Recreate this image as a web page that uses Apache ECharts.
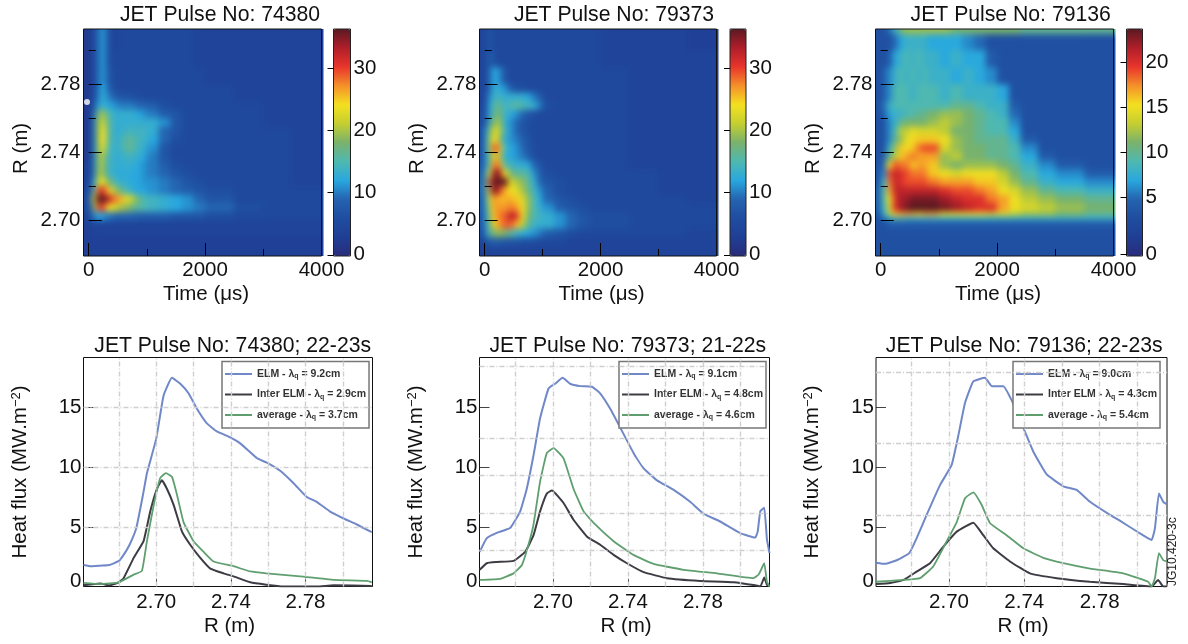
<!DOCTYPE html>
<html><head><meta charset="utf-8">
<style>html,body{margin:0;padding:0;background:#fff}#c{width:1188px;height:644px}</style>
<script src="https://cdn.jsdelivr.net/npm/echarts@6/dist/echarts.min.js"></script>
</head><body><div id="c"></div>
<script>
const heatTimeEdges=[-90,0,60,120,180,240,300,400,500,600,700,800,900,1000,1200,1400,1600,1800,2000,2500,3000,3500,4000];
const heatREdges=[2.8125,2.80,2.79,2.78,2.775,2.77,2.765,2.76,2.755,2.75,2.745,2.74,2.735,2.73,2.725,2.72,2.715,2.71,2.705,2.70,2.695,2.69,2.685,2.679];
const heat3TimeEdges=[-90,0,100,200,300,400,500,600,700,800,1000,1200,1400,1600,1800,2000,2200,2400,2700,3000,3500,4000];
const heat3REdges=[2.8125,2.8095,2.80,2.79,2.78,2.77,2.765,2.76,2.755,2.75,2.745,2.74,2.735,2.73,2.725,2.72,2.715,2.71,2.705,2.7025,2.70,2.695,2.69,2.679];
const heat74380=[
[2,3,5,8,11,11,6,4,5,5,5,5,5,5,5,5,5,4,4,4,4,4],
[2,3,5,8,11,11,6,5,5,5,5,5,5,5,5,5,5,4,4,4,4,4],
[2,3,5,8,11,11,7,5,5,5,5,5,5,5,5,5,5,5,4,4,4,4],
[2,3,5,8,12,12,8,6,5,5,5,5,5,5,5,5,5,5,5,4,4,4],
[2,3,6,9,12,13,10,8,7,7,6,6,5,5,5,5,5,5,5,4,4,4],
[2,3,7,11,13,13,12,11,10,10,10,9,9,8,6,5,5,5,5,5,4,4],
[2,3,9,16,20,19,15,13,13,13,13,12,11,10,8,7,5,5,5,5,4,4],
[2,3,10,18,22,21,16,13,13,13,13,13,13,13,11,7,5,5,5,5,4,4],
[2,3,10,18,23,24,16,13,13,14,14,14,14,13,9,7,5,5,5,5,5,4],
[2,3,10,18,24,24,16,13,14,16,16,14,14,12,9,6,5,5,5,5,5,4],
[2,3,10,17,23,22,15,13,14,16,16,14,13,11,7,5,5,5,5,5,5,4],
[2,4,10,17,21,19,14,13,13,14,14,13,12,10,7,5,5,5,5,5,5,4],
[3,4,10,17,21,18,14,13,13,13,13,12,11,10,8,6,5,5,5,5,5,4],
[3,4,10,18,21,18,14,13,12,13,12,12,11,10,9,7,6,5,5,5,5,4],
[3,5,12,20,24,23,18,15,13,13,12,12,11,11,10,9,7,6,5,5,5,4],
[4,7,16,28,32,30,25,20,17,15,13,12,12,11,10,9,8,7,6,5,5,5],
[5,9,24,36,36,36,32,28,26,23,21,17,15,14,13,12,11,9,7,5,5,5],
[5,8,18,28,32,29,24,22,20,19,17,16,15,14,13,12,11,10,9,6,5,5],
[4,6,10,12,12,11,10,9,9,9,9,8,8,8,8,7,7,7,6,5,5,5],
[3,4,4,4,4,4,4,4,4,4,4,4,4,4,4,4,4,4,4,4,4,4],
[3,3,4,4,4,4,4,4,4,4,4,4,4,4,4,4,4,4,4,4,4,4],
[3,3,3,3,3,3,3,3,3,3,3,3,3,3,3,3,3,3,3,3,3,3],
[3,3,3,3,3,3,3,3,3,3,3,3,3,3,3,3,3,3,3,3,3,3]];
const heat79373=[
[4,6,7,5,5,5,5,5,5,5,5,5,5,5,5,5,5,5,4,4,4,3],
[4,6,8,7,5,5,5,5,5,5,5,5,5,5,5,5,5,5,4,4,4,4],
[4,6,9,12,12,10,7,5,5,5,5,5,5,5,5,5,5,5,5,4,4,4],
[4,6,9,13,13,12,11,8,6,6,5,5,5,5,5,5,5,5,5,4,4,4],
[4,7,11,13,14,14,13,13,13,13,12,10,8,5,5,5,5,5,5,4,4,4],
[4,8,12,15,17,16,14,15,16,15,14,13,10,6,5,5,5,5,5,4,4,4],
[5,8,12,16,18,17,14,12,11,9,7,6,5,5,5,5,5,5,5,4,4,4],
[5,9,14,18,20,19,13,11,9,7,6,5,5,5,5,5,5,5,5,4,4,4],
[6,12,18,22,23,20,14,11,9,7,6,5,5,5,5,5,5,5,5,4,4,4],
[6,13,19,24,25,18,13,11,10,8,7,5,5,5,5,5,5,5,5,4,4,4],
[6,13,20,28,30,24,14,12,11,9,7,6,5,5,5,5,5,5,5,4,4,4],
[6,12,17,23,26,20,13,12,11,10,8,6,5,5,5,5,5,5,5,4,4,4],
[7,12,18,26,30,25,16,14,13,13,12,9,7,5,5,5,5,5,5,4,4,4],
[8,15,24,34,35,33,24,18,16,16,15,11,8,6,5,5,5,5,5,5,4,4],
[9,17,30,36,36,36,36,23,20,19,16,13,9,7,6,5,5,5,5,5,4,4],
[9,16,27,36,34,30,26,24,23,20,17,14,11,8,6,5,5,5,5,5,4,4],
[8,14,23,27,27,25,26,26,25,23,19,15,12,9,7,6,5,5,5,5,5,4],
[8,13,21,26,27,27,27,28,27,24,19,15,13,11,8,7,6,5,5,5,5,5],
[7,12,19,25,27,28,29,33,31,24,18,15,14,13,11,9,7,6,6,5,5,5],
[7,12,18,23,26,27,29,29,26,21,16,14,13,13,11,9,7,6,6,5,5,5],
[6,11,16,18,19,19,18,16,14,13,12,11,10,8,7,6,5,5,5,5,5,4],
[4,7,8,8,8,8,7,7,7,6,6,6,5,5,5,4,4,4,4,4,4,4],
[3,4,4,4,4,4,4,4,4,4,4,4,4,4,4,4,4,4,4,4,4,4]];
const heat79136=[
[3,3,5,8,11,12,12,12,12,12,12,11,11,11,11,11,11,10,10,10,10],
[3,3,3,5,7,8,8,8,8,7,7,7,6,5,3,3,3,3,3,3,3],
[3,3,4,7,8,9,8,9,8,8,7,8,7,7,4,3,3,3,3,3,3],
[3,4,6,8,9,8,9,8,9,8,8,7,8,7,6,3,3,3,3,3,3],
[3,4,6,9,9,9,8,9,9,9,8,9,8,8,8,7,3,3,3,3,3],
[3,5,8,9,9,9,9,9,9,9,9,10,10,9,8,8,4,3,3,3,3],
[3,4,7,8,8,9,9,10,10,11,12,12,11,10,9,8,5,3,3,3,3],
[3,3,6,8,10,11,11,11,11,12,13,12,11,10,9,9,6,3,3,3,3],
[3,3,6,9,13,13,15,14,14,14,13,11,11,10,9,9,7,3,3,3,3],
[3,3,6,10,12,15,15,16,16,16,15,12,11,10,10,10,8,4,3,3,3],
[3,3,8,12,16,15,16,18,19,19,14,12,11,11,10,10,9,6,3,3,3],
[3,4,10,13,16,17,18,17,17,17,12,13,11,11,10,10,9,7,4,3,3],
[3,5,15,19,18,18,16,17,17,16,12,11,12,12,12,11,10,8,6,4,3],
[3,6,19,21,20,19,18,18,18,16,15,14,15,15,15,13,11,9,7,6,4],
[3,8,18,21,20,19,19,19,19,18,17,17,17,16,16,14,12,10,8,7,6],
[4,9,17,21,21,21,21,21,21,21,20,19,19,18,17,15,14,12,10,9,8],
[4,9,15,20,22,22,23,23,23,23,22,21,20,20,18,17,15,13,12,11,10],
[4,8,14,20,22,23,24,24,24,24,23,22,21,20,20,17,15,14,13,12,11],
[3,7,13,16,17,17,17,16,17,17,15,15,15,15,14,14,13,12,12,11,10],
[3,5,7,9,9,8,8,8,8,8,8,8,8,8,8,8,8,8,8,8,8],
[3,3,4,4,4,4,4,4,4,4,4,4,4,4,4,4,4,4,4,4,4],
[3,3,3,3,3,3,3,3,3,3,3,3,3,3,3,3,3,3,3,3,3],
[3,3,3,3,3,3,3,3,3,3,3,3,3,3,3,3,3,3,3,3,3]];
const whiteSpot74380=[[-30,2.7696]];

const elmR1=[2.661,2.665,2.67,2.675,2.68,2.6825,2.6857,2.6893,2.6929,2.695,2.70,2.7039,2.7084,2.7129,2.7173,2.7218,2.727,2.7325,2.7396,2.745,2.754,2.759,2.7664,2.7736,2.7807,2.786,2.793,2.8004,2.8075,2.8155];
const elmQ1=[1.8,1.7,1.75,1.8,2.15,2.65,3.5,4.9,7.7,9.5,12.4,16,17.5,17,16.2,14.9,13.7,13,12.5,12,10.75,10.4,9.7,8.66,7.5,7.1,6.3,5.7,5.2,4.55];
const interR1=[2.661,2.67,2.675,2.68,2.6825,2.6879,2.6932,2.6968,2.7004,2.703,2.7057,2.7093,2.7138,2.7182,2.7236,2.729,2.7361,2.7414,2.7504,2.759,2.768,2.786,2.795,2.8155];
const interQ1=[0.1,0.25,0.1,0.35,0.7,2.4,3.8,6.3,8.2,8.9,8.2,6.85,4.6,3.5,2.4,1.5,1.1,0.85,0.35,0.15,0,0,0.1,0.05];
const avgR1=[2.661,2.67,2.68,2.6879,2.6923,2.695,2.6986,2.7021,2.7052,2.7084,2.7111,2.7146,2.72,2.7254,2.7307,2.7414,2.7504,2.759,2.7771,2.795,2.8129,2.8155];
const avgQ1=[0.3,0.2,0.35,1,1.3,3.8,6.8,9.1,9.5,9.2,7.7,5.4,3.8,2.9,2.1,1.7,1.26,1.1,0.85,0.56,0.47,0.35];
const elmR2=[2.661,2.6648,2.6701,2.6772,2.6826,2.6861,2.6897,2.6932,2.6977,2.7012,2.7052,2.7092,2.7146,2.7208,2.7252,2.7306,2.736,2.743,2.7484,2.7555,2.7644,2.7732,2.7804,2.7892,2.7999,2.8079,2.8092,2.8106,2.8127,2.8141,2.8155];
const elmQ2=[2.9,4.05,4.5,4.9,6.3,8.2,11,14.1,16.6,17,17.5,17,16.8,16.75,16.2,14.9,13.3,11.2,9.9,8.9,8.1,7.1,6.1,5.45,4.47,4.1,4.6,6.3,6.6,4,2.8];
const interR2=[2.661,2.6648,2.6701,2.679,2.6852,2.6897,2.6932,2.6968,2.6995,2.7057,2.711,2.7181,2.7252,2.7324,2.7395,2.7484,2.7608,2.7786,2.7964,2.8079,2.8106,2.8127,2.8141,2.8155];
const interQ2=[1.4,1.95,2.05,2.15,2.9,4.3,6.3,7.8,8.05,7,5.6,4.2,3.5,2.65,1.95,1.2,0.7,0.47,0.36,0.1,0,0.75,0.15,0];
const avgR2=[2.661,2.6719,2.679,2.6835,2.687,2.6897,2.6932,2.6968,2.7004,2.7057,2.711,2.7164,2.7226,2.7324,2.743,2.7537,2.7697,2.7875,2.807,2.8097,2.8127,2.8141,2.8155];
const avgQ2=[0.55,0.64,1.1,1.8,3.5,5.2,8.8,11.2,11.6,10.75,8.2,6.3,5.2,3.8,2.65,1.9,1.4,1.1,0.7,1,1.95,0.4,0];
const elmR3=[2.6612,2.666,2.6722,2.6789,2.6828,2.6881,2.6952,2.7014,2.705,2.7085,2.7129,2.7191,2.7227,2.7288,2.7333,2.7395,2.7448,2.7519,2.7607,2.7678,2.7749,2.7855,2.7899,2.8005,2.8076,2.8094,2.8115,2.8138,2.8156];
const elmQ3=[2,1.9,2.2,2.8,4.05,6,8.5,10.2,12.7,15.4,17.2,17.5,16.8,16.8,15.6,13.3,11.3,9.4,8.4,8.1,7.1,6,5.6,4.55,3.9,4.9,7.8,7.1,6.9];
const interR3=[2.6612,2.6687,2.6758,2.6828,2.6899,2.697,2.7041,2.7129,2.7182,2.7235,2.7324,2.743,2.7572,2.7749,2.7926,2.8076,2.8111,2.8138,2.8156];
const interQ3=[0.2,0.3,0.55,1.25,1.95,3.35,4.6,5.35,4.3,3.2,2.1,1.1,0.7,0.4,0.2,0,0.55,0,0];
const avgR3=[2.6612,2.6758,2.6846,2.6917,2.6988,2.7041,2.7085,2.7129,2.7173,2.7218,2.7306,2.7395,2.7501,2.7607,2.7749,2.7926,2.8058,2.8076,2.8094,2.8115,2.8138,2.8156];
const avgQ3=[0.4,0.55,0.7,1.7,3.8,5.4,7.4,7.9,6.85,5.3,4.3,3.2,2.4,1.95,1.5,1.1,0.4,0,0.7,2.8,2.2,2.1];

const topTitles=['JET Pulse No: 74380','JET Pulse No: 79373','JET Pulse No: 79136'];
const bottomTitles=['JET Pulse No: 74380; 22-23s','JET Pulse No: 79373; 21-22s','JET Pulse No: 79136; 22-23s'];
const elmNames=['ELM - λq = 9.2cm','ELM - λq = 9.1cm','ELM - λq = 9.0cm'];
const interNames=['Inter ELM - λq = 2.9cm','Inter ELM - λq = 4.8cm','Inter ELM - λq = 4.3cm'];
const avgNames=['average - λq = 3.7cm','average - λq = 4.6cm','average - λq = 5.4cm'];
const timeTicks=[0,2000,4000], timeMinor=[1000,3000];
const rTicks=[2.70,2.74,2.78], rMinor=[2.72,2.76,2.80];
const lineXMinor=[2.68,2.72,2.76,2.80];
const fluxTickValues=[0.4,5,10,15], fluxTickLabels=['0','5','10','15'], fluxTicks=[5,10,15];
const cbTickValues=[[0,10,20,30],[0,10,20,30],[-1.33,5,10,15,20]];
const cbTickLabels=[['0','10','20','30'],['0','10','20','30'],['0','5','10','15','20']];
const cbRanges=[[-0.2,36.4],[-0.2,36.4],[-1.48,23.74]];
const gridX=[[2.68,2.70,2.72,2.74,2.76,2.78,2.80],[2.68,2.70,2.72,2.74,2.76,2.78,2.80],[2.68,2.70,2.72,2.74,2.76,2.78,2.80]];
const gridY=[[5,10,15],[3,6.1,9.3,12.4,18.5],[6,12,18]];
const jet=['#2a2c7c','#1f3f95','#1f4da0','#2464b0','#29a8df','#4fb8b0','#7ab26b','#c5cf30','#f4e020','#f5902a','#e8352b','#b01e2a','#5a1a22'];

const FONT='"Liberation Sans",Arial,sans-serif', FS=20.5, TFS=21.2;
const heatBoxes=[[83.5,238],[479.5,237],[875.5,238]];
const barBoxes=[[333.5,17],[730,16],[1126.5,16]];
const lineBoxes=[[83.5,289],[479.5,290],[876,291]];
const topTitleX=[215,609,1005.7], bottomTitleX=[227.7,622.8,1019.2];
const HT=29,HH=227,LT=357.5,LH=229;
const xRanges=[[2.661,2.8159],[2.6609,2.8155],[2.6612,2.8158]];
const legendLefts=[222,619,1013];

const grids=[],xAxes=[],yAxes=[],series=[],visualMaps=[],legends=[],titles=[];
const text={color:'#111',fontFamily:FONT,fontSize:FS};
const titleText={color:'#111',fontFamily:FONT,fontSize:TFS,fontWeight:'normal'};
const panels=[[heat74380,heatTimeEdges,heatREdges],[heat79373,heatTimeEdges,heatREdges],[heat79136,heat3TimeEdges,heat3REdges]];

function addAxes(gi,xMain,yMain,xExtra,yExtra){
  const xi=xAxes.length,yi=yAxes.length;
  xAxes.push(Object.assign({type:'value',gridIndex:gi,axisLine:{show:false},splitLine:{show:false}},xMain));
  yAxes.push(Object.assign({type:'value',gridIndex:gi,axisLine:{show:false},splitLine:{show:false}},yMain));
  if(xExtra)xAxes.push(Object.assign({type:'value',gridIndex:gi,axisLine:{show:false},splitLine:{show:false},axisLabel:{show:false},position:'bottom',min:xMain.min,max:xMain.max},xExtra));
  if(yExtra)yAxes.push(Object.assign({type:'value',gridIndex:gi,axisLine:{show:false},splitLine:{show:false},axisLabel:{show:false},position:'left',min:yMain.min,max:yMain.max},yExtra));
  return [xi,yi];
}
const tick=(vals,len,extra)=>Object.assign({show:true,inside:true,length:len,customValues:vals,lineStyle:{color:'#000',width:1}},extra||{});

panels.forEach(([values,tE,rE],p)=>{
  const gi=grids.length;
  grids.push({show:true,left:heatBoxes[p][0],top:HT,width:heatBoxes[p][1],height:HH,borderColor:'#111',borderWidth:1,backgroundColor:'transparent',z:3});
  const [xi,yi]=addAxes(gi,
    {min:-90,max:4000,name:'Time (μs)',nameLocation:'middle',nameGap:28,nameTextStyle:Object.assign({padding:[0,0,0,7]},text),
     axisTick:tick(timeTicks,13),axisLabel:Object.assign({customValues:timeTicks,margin:4,formatter:v=>String(v)},text)},
    {min:2.679,max:2.8125,name:'R (m)',nameLocation:'middle',nameGap:52,nameTextStyle:Object.assign({padding:[0,12,0,0]},text),
     axisTick:tick(rTicks,13),axisLabel:Object.assign({customValues:rTicks,margin:3,formatter:v=>v.toFixed(2)},text)},
    {axisTick:tick(timeMinor,7)},{axisTick:tick(rMinor,7)});
  const data=[];
  values.forEach((row,r)=>row.forEach((v,c)=>data.push([tE[c],tE[c+1],rE[r],rE[r+1],v])));
  const sIdx=series.length;
  series.push({type:'custom',zlevel:-1,xAxisIndex:xi,yAxisIndex:yi,silent:true,clip:false,
    encode:{x:[0,1],y:[2,3]},data,
    renderItem:(params,api)=>{
      const t0=api.value(0),t1=api.value(1),r0=api.value(2),r1=api.value(3);
      const a=api.coord([t0,r0]),b=api.coord([t1,r1]);
      const pad=10;
      const x0=a[0]-(t0===tE[0]?pad:0), x1=b[0]+(t1===tE[tE.length-1]?pad:1);
      const y0=a[1]-(r0===rE[0]?pad:0), y1=b[1]+(r1===rE[rE.length-1]?pad:1);
      return {type:'rect',shape:{x:x0,y:y0,width:x1-x0,height:y1-y0},style:{fill:api.visual('color')}};
    }});
  visualMaps.push({type:'continuous',seriesIndex:sIdx,dimension:4,min:cbRanges[p][0],max:cbRanges[p][1],
    left:barBoxes[p][0],top:HT,itemWidth:barBoxes[p][1],itemHeight:HH,padding:0,text:null,calculable:false,hoverLink:false,
    inRange:{color:jet},z:2,showLabel:false});
  if(p===0){
    series.push({type:'scatter',xAxisIndex:xi,yAxisIndex:yi,silent:true,symbolSize:6,data:whiteSpot74380,itemStyle:{color:'#fff'}});
  }
  const bi=grids.length;
  grids.push({show:true,left:barBoxes[p][0],top:HT,width:barBoxes[p][1],height:HH,borderColor:'#222',borderWidth:1,backgroundColor:'transparent',z:6});
  addAxes(bi,{min:0,max:1,show:false},
    {min:cbRanges[p][0],max:cbRanges[p][1],position:'right',z:7,
     axisTick:tick(cbTickValues[p],6),
     axisLabel:Object.assign({customValues:cbTickValues[p],margin:3,formatter:v=>cbTickLabels[p][cbTickValues[p].findIndex(k=>Math.abs(k-v)<1e-6)]},text)});
  titles.push({text:topTitles[p],left:topTitleX[p],top:0,textAlign:'center',textStyle:titleText});
});

const lineData=[[elmR1,elmQ1,interR1,interQ1,avgR1,avgQ1],[elmR2,elmQ2,interR2,interQ2,avgR2,avgQ2],[elmR3,elmQ3,interR3,interQ3,avgR3,avgQ3]];
const zip=(a,b)=>a.map((v,i)=>[v,b[i]]);
lineData.forEach((d,p)=>{
  const gi=grids.length;
  grids.push({show:true,left:lineBoxes[p][0],top:LT,width:lineBoxes[p][1],height:LH,borderColor:'#111',borderWidth:1,backgroundColor:'transparent',z:3});
  const [xi,yi]=addAxes(gi,
    {min:xRanges[p][0],max:xRanges[p][1],name:'R (m)',nameLocation:'middle',nameGap:29,nameTextStyle:Object.assign({padding:[0,0,0,3]},text),
     axisTick:tick(rTicks,8,{lineStyle:{color:'#444',width:1}}),axisLabel:Object.assign({customValues:rTicks,margin:5,formatter:v=>v.toFixed(2)},text)},
    {min:0,max:19.2,name:'Heat flux (MW.m{s|−2})',nameLocation:'middle',nameGap:53,
     nameTextStyle:Object.assign({rich:{s:{fontSize:13,fontFamily:FONT,color:'#111',padding:[0,0,8,0]}}},text),
     axisTick:tick(fluxTicks,10,{lineStyle:{color:'#444',width:1}}),
     axisLabel:Object.assign({customValues:fluxTickValues,margin:2,formatter:v=>fluxTickLabels[fluxTickValues.indexOf(v)]},text)},
    {axisTick:tick(lineXMinor,4,{lineStyle:{color:'#444',width:1}})});
  const mk={silent:true,symbol:'none',label:{show:false},animation:false,lineStyle:{color:'#cfcfcf',width:1.4,type:[5,2,1,2]},
    data:gridX[p].map(v=>({xAxis:v})).concat(gridY[p].map(v=>({yAxis:v})))};
  const base={type:'line',xAxisIndex:xi,yAxisIndex:yi,symbol:'none',showSymbol:false,silent:true,smooth:0.12};
  series.push(Object.assign({},base,{name:elmNames[p],data:zip(d[0],d[1]),lineStyle:{color:'#7088c8',width:2},itemStyle:{color:'#7088c8'},markLine:mk}));
  series.push(Object.assign({},base,{name:interNames[p],data:zip(d[2],d[3]),lineStyle:{color:'#3c3c44',width:2},itemStyle:{color:'#3c3c44'}}));
  series.push(Object.assign({},base,{name:avgNames[p],data:zip(d[4],d[5]),lineStyle:{color:'#5f9f6f',width:1.8},itemStyle:{color:'#5f9f6f'}}));
  legends.push({data:[elmNames[p],interNames[p],avgNames[p]],orient:'vertical',left:legendLefts[p],top:LT+4,icon:'rect',
    backgroundColor:'#fff',borderColor:'#777',borderWidth:1.5,padding:[7,3,7,3],itemWidth:27,itemHeight:2,itemGap:9,z:5,selectedMode:false,
    formatter:n=>n.replace('λq','λ{s|q}'),
    textStyle:{color:'#333',fontFamily:FONT,fontSize:10.5,fontWeight:'bold',rich:{s:{fontSize:7,fontFamily:FONT,color:'#333',padding:[5,0,0,0]}}}});
  titles.push({text:bottomTitles[p],left:bottomTitleX[p],top:331,textAlign:'center',textStyle:titleText});
});

const chart=echarts.init(document.getElementById('c'),null,{renderer:'canvas'});
chart.setOption({animation:false,tooltip:{show:false},title:titles,grid:grids,xAxis:xAxes,yAxis:yAxes,series,visualMap:visualMaps,legend:legends,
  graphic:[{type:'text',x:1173,y:551.7,rotation:Math.PI/2,style:{text:'JG10.420-3c',fontFamily:FONT,fontSize:12,fill:'#222',align:'center',verticalAlign:'middle'}}]});
function softenHeat(){
  const layer=document.querySelector('canvas[data-zr-dom-id="zr_-1"]');
  if(!layer)return;
  layer.style.filter='blur(3px)';
  layer.style.clipPath='path("'+heatBoxes.map(b=>`M${b[0]} ${HT}H${b[0]+b[1]+2}V${HT+HH}H${b[0]}Z`).join(' ')+'")';
}
softenHeat();chart.on('finished',softenHeat);
</script></body></html>
